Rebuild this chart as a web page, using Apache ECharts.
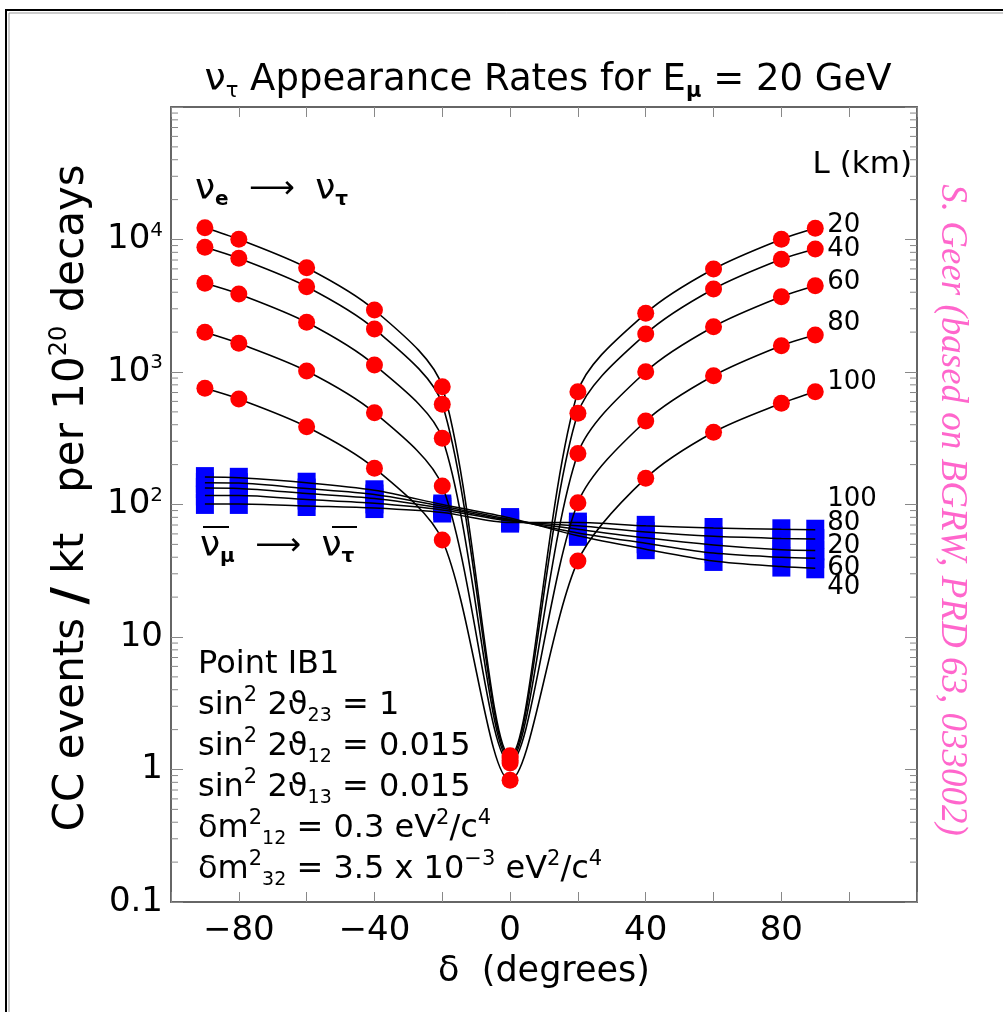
<!DOCTYPE html>
<html><head><meta charset="utf-8">
<script src="https://cdn.jsdelivr.net/npm/echarts@6/dist/echarts.min.js"></script>
<style>html,body{margin:0;padding:0;background:#fff}#c{width:1003px;height:1012px}</style>
</head><body><div id="c"></div>
<script>
// ---- data ----
const deltas = [-90, -80, -60, -40, -20, 0, 20, 40, 60, 80, 90];
const baselines = [20, 40, 60, 80, 100];
// nu_e -> nu_tau (red)
const nueL20  = [12280, 10040, 6125, 2938, 775, 1.27, 710, 2773, 5986, 10040, 12150];
const nueL40  = [8730, 7210, 4404, 2112, 571, 1.22, 488, 1936, 4230, 7090, 8480];
const nueL60  = [4670, 3880, 2372, 1130, 316, 1.17, 243, 1005, 2198, 3700, 4480];
const nueL80  = [1995, 1647, 1018, 493, 138, 1.12, 103, 427, 938, 1581, 1901];
const nueL100 = [753, 626, 386, 188, 54, 0.83, 37.5, 158, 351, 580, 710];
// anti nu_mu -> anti nu_tau (blue)
const numuL20  = [133, 132, 121, 111, 94, 76, 65, 56, 49.5, 45.5, 45];
const numuL40  = [161, 159, 146, 128, 100, 79, 58, 46, 37.5, 34, 33];
const numuL60  = [146, 145, 132, 119, 97, 77, 61, 51, 43, 40, 39.3];
const numuL80  = [117, 117, 109, 102, 91, 75, 69, 62, 57.5, 55.5, 55];
const numuL100 = [101, 101, 97.4, 94, 87, 73, 73, 69, 66.5, 65, 64.5];
const xTickLabels = [-80, -40, 0, 40, 80];
const yTickLabels = {'-1': '0.1', '0': '1', '1': '10', '2': '10{sup|2}', '3': '10{sup|3}', '4': '10{sup|4}'};
const X_MIN = -100, X_MAX = 120, Y_MIN = 0.1, Y_MAX = 100000;

const nueSeries = [nueL20, nueL40, nueL60, nueL80, nueL100];
const numuSeries = [numuL20, numuL40, numuL60, numuL80, numuL100];
const nueLabelOffset = [-3, 0, -3, -12, -9];
const numuLabelOffset = [-4, 19, 10, -16, -30];

const FONT = 'DejaVu Sans';
const pair = arr => deltas.map((d, i) => [d, arr[i]]);

// minor log ticks
const minorVals = [];
for (let k = -1; k < 5; k++) for (let m = 2; m <= 9; m++) minorVals.push(m * Math.pow(10, k));

const series = [];
numuSeries.forEach((arr, i) => {
  series.push({
    type: 'scatter', data: pair(arr), symbol: 'rect', symbolSize: [18, 20],
    itemStyle: { color: '#0000ff', opacity: 1 }, z: 2, silent: true
  });
});
numuSeries.forEach((arr, i) => {
  series.push({
    type: 'line', data: pair(arr), showSymbol: false, smooth: 0.3, z: 3,
    lineStyle: { color: '#000', width: 1.5 },
    endLabel: { show: true, formatter: String(baselines[i]), distance: 12, offset: [0, numuLabelOffset[i]],
      fontFamily: FONT, fontSize: 26, color: '#000' }
  });
});
nueSeries.forEach((arr, i) => {
  series.push({
    type: 'line', data: pair(arr), smooth: 0.3, z: 5,
    symbol: 'circle', symbolSize: 17, showSymbol: true,
    itemStyle: { color: '#ff0000', borderWidth: 0, opacity: 1 },
    lineStyle: { color: '#000', width: 1.6 },
    endLabel: { show: true, formatter: String(baselines[i]), distance: 12, offset: [0, nueLabelOffset[i]],
      fontFamily: FONT, fontSize: 26, color: '#000' }
  });
});
series.push({
  type: 'custom', silent: true, clip: false, z: 1,
  data: minorVals.map(v => [X_MIN, v]), encode: { x: 0, y: 1 },
  renderItem(params, api) {
    const v = api.value(1);
    const pL = api.coord([X_MIN, v]);
    const pR = api.coord([X_MAX, v]);
    const st = { stroke: '#888', lineWidth: 1 };
    return { type: 'group', children: [
      { type: 'line', shape: { x1: pL[0], y1: pL[1], x2: pL[0] + 7, y2: pL[1] }, style: st },
      { type: 'line', shape: { x1: pR[0], y1: pR[1], x2: pR[0] - 7, y2: pR[1] }, style: st }
    ] };
  }
});

const axisLineStyle = { color: '#666', width: 2 };
const supStyle = { fontSize: 21, verticalAlign: 'top', fontFamily: FONT, color: '#000', lineHeight: 40 };
const subStyle = { fontSize: 19, verticalAlign: 'bottom', fontFamily: FONT, color: '#000', lineHeight: 40 };

const chart = echarts.init(document.getElementById('c'), null, { renderer: 'canvas' });
chart.setOption({
  backgroundColor: '#fff',
  animation: false,
  textStyle: { fontFamily: FONT },
  grid: { left: 171, right: 86, top: 107, bottom: 110 },
  xAxis: [{
    type: 'value', min: X_MIN, max: X_MAX, interval: 20, position: 'bottom',
    axisLine: { show: true, onZero: false, lineStyle: axisLineStyle },
    axisTick: { inside: true, length: 10, lineStyle: { color: '#888', width: 1 } },
    splitLine: { show: false },
    axisLabel: { fontSize: 34, color: '#000', margin: 12, fontFamily: FONT,
      formatter: v => xTickLabels.includes(v) ? (v < 0 ? '\u2212' + (-v) : String(v)) : '' },
    name: '\u03b4  (degrees)', nameLocation: 'middle', nameGap: 52,
    nameTextStyle: { fontSize: 35, color: '#000', fontFamily: FONT }
  }, {
    type: 'value', min: X_MIN, max: X_MAX, interval: 20, position: 'top',
    axisLine: { show: true, onZero: false, lineStyle: axisLineStyle },
    axisTick: { inside: true, length: 10, lineStyle: { color: '#888', width: 1 } },
    splitLine: { show: false }, axisLabel: { show: false }
  }],
  yAxis: [{
    type: 'log', logBase: 10, min: Y_MIN, max: Y_MAX, position: 'left',
    axisLine: { show: true, onZero: false, lineStyle: axisLineStyle },
    axisTick: { inside: true, length: 12, lineStyle: { color: '#888', width: 1 } },
    splitLine: { show: false },
    axisLabel: { fontSize: 34, color: '#000', margin: 8, fontFamily: FONT,
      formatter: v => { const e = Math.round(Math.log10(v)); return yTickLabels[String(e)] || ''; },
      rich: { sup: { fontSize: 20, verticalAlign: 'top', lineHeight: 38, fontFamily: FONT, color: '#000' } } },
    name: ' CC events {sl|/} kt   per 10{sup|20} decays', nameLocation: 'middle', nameGap: 61, nameRotate: 90,
    nameTextStyle: { fontSize: 42, color: '#000', fontFamily: FONT,
      rich: { sup: { fontSize: 24, verticalAlign: 'top', lineHeight: 44, fontFamily: FONT, color: '#000' },
              sl: { fontSize: 48, fontWeight: 'bold', fontFamily: FONT, color: '#000' } } }
  }, {
    type: 'log', logBase: 10, min: Y_MIN, max: Y_MAX, position: 'right',
    axisLine: { show: true, onZero: false, lineStyle: axisLineStyle },
    axisTick: { inside: true, length: 12, lineStyle: { color: '#888', width: 1 } },
    splitLine: { show: false }, axisLabel: { show: false }
  }],
  series: series,
  graphic: [
    { type: 'rect', shape: { x: 6, y: 10, width: 1100, height: 1100 }, style: { fill: 'none', stroke: '#000', lineWidth: 2 }, silent: true },
    { type: 'rect', shape: { x: 9, y: 13, width: 1100, height: 1100 }, style: { fill: 'none', stroke: '#999', lineWidth: 1 }, silent: true },
    { type: 'text', x: 548, y: 80, style: {
        text: '{n|\u03bd}{sub|\u03c4} Appearance Rates for E{subb|\u03bc} = 20 GeV',
        textAlign: 'center', textVerticalAlign: 'middle', fontFamily: FONT, fontSize: 37, fill: '#000',
        rich: { n: { fontSize: 38, fontFamily: FONT }, sub: { fontSize: 21, verticalAlign: 'bottom', lineHeight: 44, fontFamily: FONT },
                subb: { fontSize: 21, fontWeight: 'bold', verticalAlign: 'bottom', lineHeight: 44, fontFamily: FONT } } } },
    { type: 'text', x: 912, y: 165, style: { text: 'L (km)', textAlign: 'right', textVerticalAlign: 'middle', fontFamily: FONT, fontSize: 31, fill: '#000' } },
    { type: 'text', x: 195, y: 190, style: {
        text: '{n|\u03bd}{s|e}  \u27f6  {n|\u03bd}{s|\u03c4}',
        textAlign: 'left', textVerticalAlign: 'middle', fontFamily: FONT, fontSize: 32, fill: '#000',
        rich: { n: { fontSize: 36, fontFamily: FONT }, s: { fontSize: 20, fontWeight: 'bold', verticalAlign: 'bottom', lineHeight: 40, fontFamily: FONT } } } },
    { type: 'text', x: 200, y: 547, style: {
        text: '{n|\u03bd}{s|\u03bc}  \u27f6  {n|\u03bd}{s|\u03c4}',
        textAlign: 'left', textVerticalAlign: 'middle', fontFamily: FONT, fontSize: 32, fill: '#000',
        rich: { n: { fontSize: 36, fontFamily: FONT }, s: { fontSize: 20, fontWeight: 'bold', verticalAlign: 'bottom', lineHeight: 40, fontFamily: FONT } } } },
    { type: 'line', shape: { x1: 203, y1: 527, x2: 229, y2: 527 }, style: { stroke: '#000', lineWidth: 2 } },
    { type: 'line', shape: { x1: 332, y1: 527, x2: 357, y2: 527 }, style: { stroke: '#000', lineWidth: 2 } },
    { type: 'text', x: 198, y: 767, style: {
        text: [
          'Point IB1',
          'sin{sup|2} 2\u03d1{sub|23} = 1',
          'sin{sup|2} 2\u03d1{sub|12} = 0.015',
          'sin{sup|2} 2\u03d1{sub|13} = 0.015',
          '\u03b4m{sup|2}{sub|12} = 0.3 eV{sup|2}/c{sup|4}',
          '\u03b4m{sup|2}{sub|32} = 3.5 x 10{sup|\u22123} eV{sup|2}/c{sup|4}'
        ].join('\n'),
        textAlign: 'left', textVerticalAlign: 'middle', fontFamily: FONT, fontSize: 32, fill: '#000', lineHeight: 41,
        rich: { sup: supStyle, sub: subStyle } } },
    { type: 'text', x: 952, y: 510, rotation: -Math.PI / 2, style: {
        text: 'S. Geer (based on BGRW, PRD 63, 033002)',
        textAlign: 'center', textVerticalAlign: 'middle', fontFamily: 'Liberation Serif', fontStyle: 'italic',
        fontSize: 37, fill: '#ff66cc' } }
  ]
});
</script></body></html>
